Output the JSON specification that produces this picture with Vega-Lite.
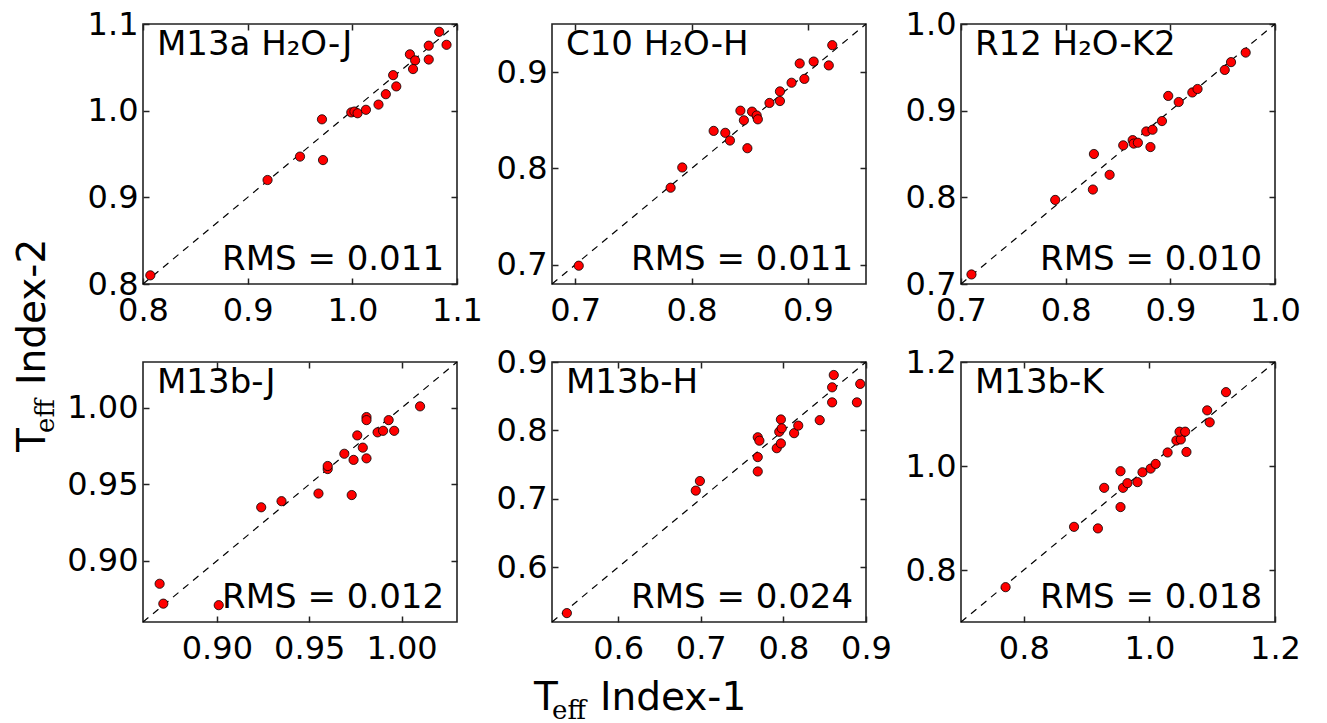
{
"$schema": "https://vega.github.io/schema/vega-lite/v6.json",
"autosize": {"type": "pad"},
"padding": {"left": 13, "top": 7, "right": 0, "bottom": 0},
"background": "white",
"datasets": {
"pts": [
{"p":1,"x":0.807,"y":0.810},{"p":1,"x":0.919,"y":0.920},{"p":1,"x":0.950,"y":0.947},{"p":1,"x":0.971,"y":0.990},{"p":1,"x":0.972,"y":0.943},{"p":1,"x":0.999,"y":0.998},{"p":1,"x":1.002,"y":0.999},{"p":1,"x":1.005,"y":0.997},{"p":1,"x":1.013,"y":1.001},{"p":1,"x":1.025,"y":1.007},{"p":1,"x":1.032,"y":1.019},{"p":1,"x":1.039,"y":1.041},{"p":1,"x":1.042,"y":1.028},{"p":1,"x":1.055,"y":1.065},{"p":1,"x":1.060,"y":1.058},{"p":1,"x":1.058,"y":1.048},{"p":1,"x":1.073,"y":1.075},{"p":1,"x":1.073,"y":1.059},{"p":1,"x":1.083,"y":1.091},{"p":1,"x":1.090,"y":1.076},
{"p":2,"x":0.703,"y":0.699},{"p":2,"x":0.782,"y":0.780},{"p":2,"x":0.792,"y":0.801},{"p":2,"x":0.819,"y":0.839},{"p":2,"x":0.829,"y":0.837},{"p":2,"x":0.833,"y":0.829},{"p":2,"x":0.842,"y":0.860},{"p":2,"x":0.845,"y":0.850},{"p":2,"x":0.848,"y":0.821},{"p":2,"x":0.852,"y":0.859},{"p":2,"x":0.856,"y":0.855},{"p":2,"x":0.857,"y":0.851},{"p":2,"x":0.867,"y":0.868},{"p":2,"x":0.876,"y":0.880},{"p":2,"x":0.876,"y":0.870},{"p":2,"x":0.886,"y":0.889},{"p":2,"x":0.893,"y":0.909},{"p":2,"x":0.897,"y":0.893},{"p":2,"x":0.905,"y":0.911},{"p":2,"x":0.918,"y":0.907},{"p":2,"x":0.921,"y":0.928},
{"p":3,"x":0.710,"y":0.711},{"p":3,"x":0.790,"y":0.797},{"p":3,"x":0.826,"y":0.809},{"p":3,"x":0.827,"y":0.850},{"p":3,"x":0.842,"y":0.826},{"p":3,"x":0.855,"y":0.860},{"p":3,"x":0.864,"y":0.866},{"p":3,"x":0.865,"y":0.862},{"p":3,"x":0.869,"y":0.863},{"p":3,"x":0.877,"y":0.876},{"p":3,"x":0.883,"y":0.878},{"p":3,"x":0.881,"y":0.858},{"p":3,"x":0.892,"y":0.888},{"p":3,"x":0.898,"y":0.917},{"p":3,"x":0.908,"y":0.910},{"p":3,"x":0.921,"y":0.921},{"p":3,"x":0.926,"y":0.925},{"p":3,"x":0.952,"y":0.947},{"p":3,"x":0.958,"y":0.956},{"p":3,"x":0.972,"y":0.967},
{"p":4,"x":0.869,"y":0.885},{"p":4,"x":0.871,"y":0.872},{"p":4,"x":0.901,"y":0.871},{"p":4,"x":0.924,"y":0.935},{"p":4,"x":0.935,"y":0.939},{"p":4,"x":0.955,"y":0.944},{"p":4,"x":0.960,"y":0.960},{"p":4,"x":0.960,"y":0.962},{"p":4,"x":0.969,"y":0.970},{"p":4,"x":0.973,"y":0.943},{"p":4,"x":0.974,"y":0.966},{"p":4,"x":0.976,"y":0.982},{"p":4,"x":0.979,"y":0.974},{"p":4,"x":0.981,"y":0.994},{"p":4,"x":0.981,"y":0.992},{"p":4,"x":0.981,"y":0.967},{"p":4,"x":0.987,"y":0.984},{"p":4,"x":0.990,"y":0.985},{"p":4,"x":0.993,"y":0.992},{"p":4,"x":0.996,"y":0.985},{"p":4,"x":1.010,"y":1.001},
{"p":5,"x":0.538,"y":0.533},{"p":5,"x":0.694,"y":0.712},{"p":5,"x":0.699,"y":0.726},{"p":5,"x":0.769,"y":0.740},{"p":5,"x":0.769,"y":0.761},{"p":5,"x":0.769,"y":0.790},{"p":5,"x":0.771,"y":0.785},{"p":5,"x":0.792,"y":0.774},{"p":5,"x":0.795,"y":0.798},{"p":5,"x":0.797,"y":0.781},{"p":5,"x":0.797,"y":0.816},{"p":5,"x":0.798,"y":0.803},{"p":5,"x":0.813,"y":0.796},{"p":5,"x":0.818,"y":0.807},{"p":5,"x":0.844,"y":0.815},{"p":5,"x":0.859,"y":0.841},{"p":5,"x":0.859,"y":0.863},{"p":5,"x":0.861,"y":0.881},{"p":5,"x":0.889,"y":0.841},{"p":5,"x":0.893,"y":0.868},
{"p":6,"x":0.771,"y":0.767},{"p":6,"x":0.880,"y":0.883},{"p":6,"x":0.918,"y":0.880},{"p":6,"x":0.928,"y":0.958},{"p":6,"x":0.954,"y":0.990},{"p":6,"x":0.954,"y":0.921},{"p":6,"x":0.958,"y":0.958},{"p":6,"x":0.965,"y":0.967},{"p":6,"x":0.981,"y":0.969},{"p":6,"x":0.989,"y":0.988},{"p":6,"x":1.002,"y":0.995},{"p":6,"x":1.010,"y":1.004},{"p":6,"x":1.029,"y":1.026},{"p":6,"x":1.043,"y":1.049},{"p":6,"x":1.050,"y":1.051},{"p":6,"x":1.048,"y":1.066},{"p":6,"x":1.057,"y":1.066},{"p":6,"x":1.059,"y":1.027},{"p":6,"x":1.092,"y":1.107},{"p":6,"x":1.096,"y":1.084},{"p":6,"x":1.122,"y":1.142}
]
},
"columns": 3,
"bounds": "flush",
"align": "all",
"spacing": {"row": 78, "column": 95},
"concat": [
   {"width": 314, "height": 260, "layer": [
     {"data": {"values": [{"v": 0.8}, {"v": 1.1}]}, "mark": {"type": "line", "color": "black", "strokeWidth": 1.2, "strokeDash": [7, 6]},
      "encoding": {"x": {"field": "v", "type": "quantitative", "scale": {"domain": [0.8, 1.1], "nice": false, "zero": false}, "axis": {"orient": "bottom", "values": [0.8, 0.9, 1.0, 1.1], "format": ".1f"}},
                   "y": {"field": "v", "type": "quantitative", "scale": {"domain": [0.8, 1.1], "nice": false, "zero": false}, "axis": {"orient": "left", "values": [0.8, 0.9, 1.0, 1.1], "format": ".1f"}}}},
     {"data": {"name": "pts"}, "transform": [{"filter": "datum.p == 1"}], "mark": {"type": "point", "shape": "circle", "filled": true, "fill": "#ff0000", "stroke": "black", "strokeWidth": 0.8, "size": 85, "opacity": 1},
      "encoding": {"x": {"field": "x", "type": "quantitative", "scale": {"domain": [0.8, 1.1], "nice": false, "zero": false}, "axis": {"orient": "top", "values": [0.8, 0.9, 1.0, 1.1], "labels": false}},
                   "y": {"field": "y", "type": "quantitative", "scale": {"domain": [0.8, 1.1], "nice": false, "zero": false}, "axis": {"orient": "right", "values": [0.8, 0.9, 1.0, 1.1], "labels": false}}}},
     {"data": {"values": [{"name": "M13a H₂O-J"}]}, "mark": {"type": "text", "align": "left", "baseline": "alphabetic", "fontSize": 34, "color": "black"},
      "encoding": {"x": {"datum": 0.8133, "type": "quantitative", "axis": null}, "y": {"datum": 1.0642, "type": "quantitative", "axis": null}, "text": {"field": "name"}}},
     {"data": {"values": [{"rms": "RMS = 0.011"}]}, "mark": {"type": "text", "align": "right", "baseline": "alphabetic", "fontSize": 34, "color": "black"},
      "encoding": {"x": {"datum": 1.0876, "type": "quantitative", "axis": null}, "y": {"datum": 0.8162, "type": "quantitative", "axis": null}, "text": {"field": "rms"}}},
     {"data": {"values": [{"a": "T", "b": "eff", "c": "Index-2"}]}, "layer": [
      {"mark": {"type": "text", "angle": 270, "align": "left", "baseline": "alphabetic", "font": "DejaVu Sans", "fontSize": 39, "dx": -298, "dy": -255, "color": "black"}, "encoding": {"text": {"field": "a"}}},
      {"mark": {"type": "text", "angle": 270, "align": "left", "baseline": "alphabetic", "font": "DejaVu Serif", "fontSize": 26, "dx": -279, "dy": -246, "color": "black"}, "encoding": {"text": {"field": "b"}}},
      {"mark": {"type": "text", "angle": 270, "align": "left", "baseline": "alphabetic", "font": "DejaVu Sans", "fontSize": 39, "dx": -231, "dy": -255, "color": "black"}, "encoding": {"text": {"field": "c"}}}
     ]}
   ]},
   {"width": 314, "height": 260, "layer": [
     {"data": {"values": [{"v": 0.68}, {"v": 0.95}]}, "mark": {"type": "line", "color": "black", "strokeWidth": 1.2, "strokeDash": [7, 6]},
      "encoding": {"x": {"field": "v", "type": "quantitative", "scale": {"domain": [0.68, 0.95], "nice": false, "zero": false}, "axis": {"orient": "bottom", "values": [0.7, 0.8, 0.9], "format": ".1f"}},
                   "y": {"field": "v", "type": "quantitative", "scale": {"domain": [0.68, 0.95], "nice": false, "zero": false}, "axis": {"orient": "left", "values": [0.7, 0.8, 0.9], "format": ".1f"}}}},
     {"data": {"name": "pts"}, "transform": [{"filter": "datum.p == 2"}], "mark": {"type": "point", "shape": "circle", "filled": true, "fill": "#ff0000", "stroke": "black", "strokeWidth": 0.8, "size": 85, "opacity": 1},
      "encoding": {"x": {"field": "x", "type": "quantitative", "scale": {"domain": [0.68, 0.95], "nice": false, "zero": false}, "axis": {"orient": "top", "values": [0.7, 0.8, 0.9], "labels": false}},
                   "y": {"field": "y", "type": "quantitative", "scale": {"domain": [0.68, 0.95], "nice": false, "zero": false}, "axis": {"orient": "right", "values": [0.7, 0.8, 0.9], "labels": false}}}},
     {"data": {"values": [{"name": "C10 H₂O-H"}]}, "mark": {"type": "text", "align": "left", "baseline": "alphabetic", "fontSize": 34, "color": "black"},
      "encoding": {"x": {"datum": 0.6920, "type": "quantitative", "axis": null}, "y": {"datum": 0.9178, "type": "quantitative", "axis": null}, "text": {"field": "name"}}},
     {"data": {"values": [{"rms": "RMS = 0.011"}]}, "mark": {"type": "text", "align": "right", "baseline": "alphabetic", "fontSize": 34, "color": "black"},
      "encoding": {"x": {"datum": 0.9389, "type": "quantitative", "axis": null}, "y": {"datum": 0.6945, "type": "quantitative", "axis": null}, "text": {"field": "rms"}}}
   ]},
   {"width": 314, "height": 260, "layer": [
     {"data": {"values": [{"v": 0.7}, {"v": 1.0}]}, "mark": {"type": "line", "color": "black", "strokeWidth": 1.2, "strokeDash": [7, 6]},
      "encoding": {"x": {"field": "v", "type": "quantitative", "scale": {"domain": [0.7, 1.0], "nice": false, "zero": false}, "axis": {"orient": "bottom", "values": [0.7, 0.8, 0.9, 1.0], "format": ".1f"}},
                   "y": {"field": "v", "type": "quantitative", "scale": {"domain": [0.7, 1.0], "nice": false, "zero": false}, "axis": {"orient": "left", "values": [0.7, 0.8, 0.9, 1.0], "format": ".1f"}}}},
     {"data": {"name": "pts"}, "transform": [{"filter": "datum.p == 3"}], "mark": {"type": "point", "shape": "circle", "filled": true, "fill": "#ff0000", "stroke": "black", "strokeWidth": 0.8, "size": 85, "opacity": 1},
      "encoding": {"x": {"field": "x", "type": "quantitative", "scale": {"domain": [0.7, 1.0], "nice": false, "zero": false}, "axis": {"orient": "top", "values": [0.7, 0.8, 0.9, 1.0], "labels": false}},
                   "y": {"field": "y", "type": "quantitative", "scale": {"domain": [0.7, 1.0], "nice": false, "zero": false}, "axis": {"orient": "right", "values": [0.7, 0.8, 0.9, 1.0], "labels": false}}}},
     {"data": {"values": [{"name": "R12 H₂O-K2"}]}, "mark": {"type": "text", "align": "left", "baseline": "alphabetic", "fontSize": 34, "color": "black"},
      "encoding": {"x": {"datum": 0.7133, "type": "quantitative", "axis": null}, "y": {"datum": 0.9642, "type": "quantitative", "axis": null}, "text": {"field": "name"}}},
     {"data": {"values": [{"rms": "RMS = 0.010"}]}, "mark": {"type": "text", "align": "right", "baseline": "alphabetic", "fontSize": 34, "color": "black"},
      "encoding": {"x": {"datum": 0.9876, "type": "quantitative", "axis": null}, "y": {"datum": 0.7162, "type": "quantitative", "axis": null}, "text": {"field": "rms"}}}
   ]},
   {"width": 314, "height": 260, "layer": [
     {"data": {"values": [{"v": 0.86}, {"v": 1.03}]}, "mark": {"type": "line", "color": "black", "strokeWidth": 1.2, "strokeDash": [7, 6]},
      "encoding": {"x": {"field": "v", "type": "quantitative", "scale": {"domain": [0.86, 1.03], "nice": false, "zero": false}, "axis": {"orient": "bottom", "values": [0.90, 0.95, 1.00], "format": ".2f"}},
                   "y": {"field": "v", "type": "quantitative", "scale": {"domain": [0.86, 1.03], "nice": false, "zero": false}, "axis": {"orient": "left", "values": [0.90, 0.95, 1.00], "format": ".2f"}}}},
     {"data": {"name": "pts"}, "transform": [{"filter": "datum.p == 4"}], "mark": {"type": "point", "shape": "circle", "filled": true, "fill": "#ff0000", "stroke": "black", "strokeWidth": 0.8, "size": 85, "opacity": 1},
      "encoding": {"x": {"field": "x", "type": "quantitative", "scale": {"domain": [0.86, 1.03], "nice": false, "zero": false}, "axis": {"orient": "top", "values": [0.90, 0.95, 1.00], "labels": false}},
                   "y": {"field": "y", "type": "quantitative", "scale": {"domain": [0.86, 1.03], "nice": false, "zero": false}, "axis": {"orient": "right", "values": [0.90, 0.95, 1.00], "labels": false}}}},
     {"data": {"values": [{"name": "M13b-J"}]}, "mark": {"type": "text", "align": "left", "baseline": "alphabetic", "fontSize": 34, "color": "black"},
      "encoding": {"x": {"datum": 0.8676, "type": "quantitative", "axis": null}, "y": {"datum": 1.0097, "type": "quantitative", "axis": null}, "text": {"field": "name"}}},
     {"data": {"values": [{"rms": "RMS = 0.012"}]}, "mark": {"type": "text", "align": "right", "baseline": "alphabetic", "fontSize": 34, "color": "black"},
      "encoding": {"x": {"datum": 1.0230, "type": "quantitative", "axis": null}, "y": {"datum": 0.8692, "type": "quantitative", "axis": null}, "text": {"field": "rms"}}}
   ]},
   {"width": 314, "height": 260, "layer": [
     {"data": {"values": [{"v": 0.52}, {"v": 0.9}]}, "mark": {"type": "line", "color": "black", "strokeWidth": 1.2, "strokeDash": [7, 6]},
      "encoding": {"x": {"field": "v", "type": "quantitative", "scale": {"domain": [0.52, 0.9], "nice": false, "zero": false}, "axis": {"orient": "bottom", "values": [0.6, 0.7, 0.8, 0.9], "format": ".1f"}},
                   "y": {"field": "v", "type": "quantitative", "scale": {"domain": [0.52, 0.9], "nice": false, "zero": false}, "axis": {"orient": "left", "values": [0.6, 0.7, 0.8, 0.9], "format": ".1f"}}}},
     {"data": {"name": "pts"}, "transform": [{"filter": "datum.p == 5"}], "mark": {"type": "point", "shape": "circle", "filled": true, "fill": "#ff0000", "stroke": "black", "strokeWidth": 0.8, "size": 85, "opacity": 1},
      "encoding": {"x": {"field": "x", "type": "quantitative", "scale": {"domain": [0.52, 0.9], "nice": false, "zero": false}, "axis": {"orient": "top", "values": [0.6, 0.7, 0.8, 0.9], "labels": false}},
                   "y": {"field": "y", "type": "quantitative", "scale": {"domain": [0.52, 0.9], "nice": false, "zero": false}, "axis": {"orient": "right", "values": [0.6, 0.7, 0.8, 0.9], "labels": false}}}},
     {"data": {"values": [{"name": "M13b-H"}]}, "mark": {"type": "text", "align": "left", "baseline": "alphabetic", "fontSize": 34, "color": "black"},
      "encoding": {"x": {"datum": 0.5369, "type": "quantitative", "axis": null}, "y": {"datum": 0.8547, "type": "quantitative", "axis": null}, "text": {"field": "name"}}},
     {"data": {"values": [{"rms": "RMS = 0.024"}]}, "mark": {"type": "text", "align": "right", "baseline": "alphabetic", "fontSize": 34, "color": "black"},
      "encoding": {"x": {"datum": 0.8843, "type": "quantitative", "axis": null}, "y": {"datum": 0.5405, "type": "quantitative", "axis": null}, "text": {"field": "rms"}}},
     {"data": {"values": [{"a": "T", "b": "eff", "c": "Index-1"}]}, "layer": [
      {"mark": {"type": "text", "align": "left", "baseline": "alphabetic", "font": "DejaVu Sans", "fontSize": 39, "dx": -175, "dy": 218, "color": "black"}, "encoding": {"text": {"field": "a"}}},
      {"mark": {"type": "text", "align": "left", "baseline": "alphabetic", "font": "DejaVu Serif", "fontSize": 26, "dx": -157, "dy": 227, "color": "black"}, "encoding": {"text": {"field": "b"}}},
      {"mark": {"type": "text", "align": "left", "baseline": "alphabetic", "font": "DejaVu Sans", "fontSize": 39, "dx": -109, "dy": 218, "color": "black"}, "encoding": {"text": {"field": "c"}}}
     ]}
   ]},
   {"width": 314, "height": 260, "layer": [
     {"data": {"values": [{"v": 0.7}, {"v": 1.2}]}, "mark": {"type": "line", "color": "black", "strokeWidth": 1.2, "strokeDash": [7, 6]},
      "encoding": {"x": {"field": "v", "type": "quantitative", "scale": {"domain": [0.7, 1.2], "nice": false, "zero": false}, "axis": {"orient": "bottom", "values": [0.8, 1.0, 1.2], "format": ".1f"}},
                   "y": {"field": "v", "type": "quantitative", "scale": {"domain": [0.7, 1.2], "nice": false, "zero": false}, "axis": {"orient": "left", "values": [0.8, 1.0, 1.2], "format": ".1f"}}}},
     {"data": {"name": "pts"}, "transform": [{"filter": "datum.p == 6"}], "mark": {"type": "point", "shape": "circle", "filled": true, "fill": "#ff0000", "stroke": "black", "strokeWidth": 0.8, "size": 85, "opacity": 1},
      "encoding": {"x": {"field": "x", "type": "quantitative", "scale": {"domain": [0.7, 1.2], "nice": false, "zero": false}, "axis": {"orient": "top", "values": [0.8, 1.0, 1.2], "labels": false}},
                   "y": {"field": "y", "type": "quantitative", "scale": {"domain": [0.7, 1.2], "nice": false, "zero": false}, "axis": {"orient": "right", "values": [0.8, 1.0, 1.2], "labels": false}}}},
     {"data": {"values": [{"name": "M13b-K"}]}, "mark": {"type": "text", "align": "left", "baseline": "alphabetic", "fontSize": 34, "color": "black"},
      "encoding": {"x": {"datum": 0.7222, "type": "quantitative", "axis": null}, "y": {"datum": 1.1404, "type": "quantitative", "axis": null}, "text": {"field": "name"}}},
     {"data": {"values": [{"rms": "RMS = 0.018"}]}, "mark": {"type": "text", "align": "right", "baseline": "alphabetic", "fontSize": 34, "color": "black"},
      "encoding": {"x": {"datum": 1.1794, "type": "quantitative", "axis": null}, "y": {"datum": 0.7269, "type": "quantitative", "axis": null}, "text": {"field": "rms"}}}
   ]}
],
"config": {
 "font": "DejaVu Sans",
 "view": {"stroke": "#222222", "strokeWidth": 1.6},
 "axis": {"domain": false, "grid": false, "title": null, "labelFont": "DejaVu Sans", "labelFontSize": 32, "labelColor": "black", "tickColor": "#222222", "tickWidth": 1.5, "tickSize": -6, "labelFlush": false, "labelOverlap": false, "labelBound": false},
 "axisX": {"labelPadding": 17},
 "axisY": {"labelPadding": 11},
 "text": {"font": "DejaVu Sans"}
}
}
